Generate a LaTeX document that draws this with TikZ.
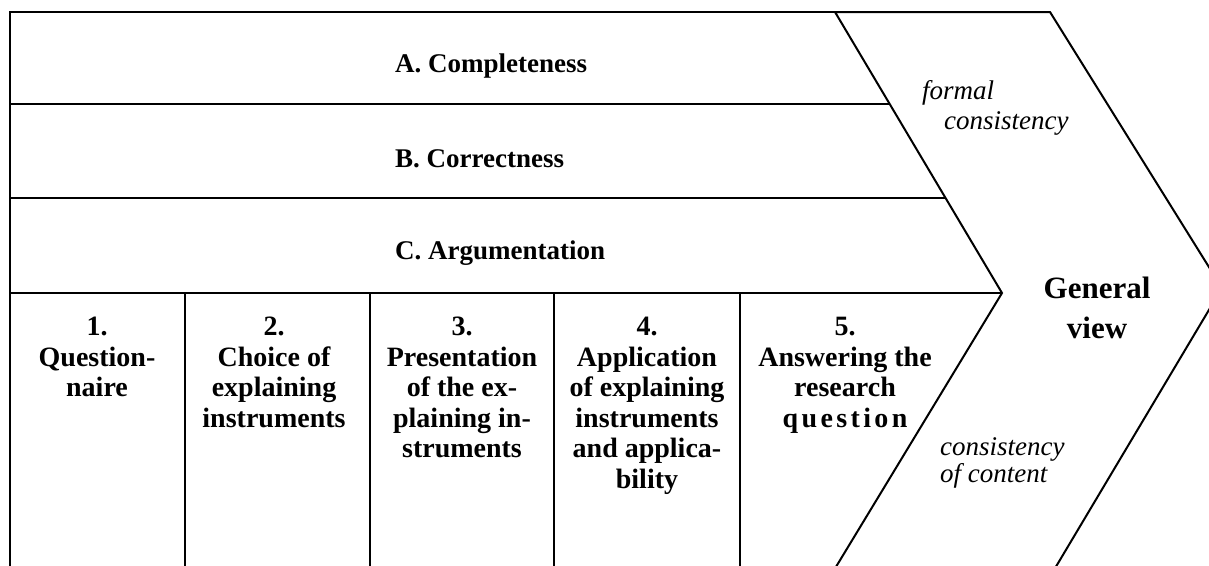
\documentclass[tikz,border=0pt]{standalone}
\usepackage{fontspec}
\setmainfont{Liberation Serif}
\usetikzlibrary{positioning}
\tikzset{
  gridline/.style={line width=1.3pt},
  chevronline/.style={line width=2pt, line join=miter},
  rowlabel/.style={anchor=base west, inner sep=0pt, font=\fontsize{27}{31}\selectfont\bfseries},
  steplabel/.style={anchor=north, inner sep=0pt, align=center, font=\fontsize{28}{30.5}\selectfont\bfseries},
  sidelabel/.style={anchor=north west, inner sep=0pt, align=left, font=\fontsize{27}{30}\selectfont\itshape}
}
\begin{document}
\begin{tikzpicture}[x=1pt, y=-1pt]
        \useasboundingbox (0,0) rectangle (1209,565);
        \clip (0,0) rectangle (1209,565);
        % Chevron
        \draw[chevronline] (835,12) -- (1050,12) -- (1222,288) -- (1048,580)
                -- (828,580) -- (1002,293) -- cycle;
        
        % Table frame and rows
        \draw[gridline] (10,580) -- (10,12) -- (835,12);
        \draw[gridline] (10,104) -- (890,104);
        \draw[gridline] (10,198) -- (946,198);
        \draw[gridline] (10,293) -- (1002,293);
        
        % Columns
        \foreach \x in {185, 370, 554, 740}
          \draw[gridline] (\x,293) -- (\x,580);
        
        % Criteria
        \node[rowlabel] (complete) at (395,72) {A. Completeness};
        \node[rowlabel] (correct) at (395,167) {B. Correctness};
        \node[rowlabel] (argue) at (395,259) {C. Argumentation};
        
        % Steps
        \node[steplabel] (step1) at (97,317) {1.\\Question-\\naire};
        \node[steplabel] (step2) at (274,317) {2.\\Choice of\\explaining\\instruments};
        \node[steplabel] (step3) at (462,317) {3.\\Presentation\\of the ex-\\plaining in-\\struments};
        \node[steplabel] (step4) at (647,317) {4.\\Application\\of explaining\\instruments\\and applica-\\bility};
        \node[steplabel] (step5) at (845,317) {5.\\Answering the\\research\\{\addfontfeature{LetterSpace=12}question}};
        
        % Consistency
        \node[sidelabel] (formal) at (922,80) {formal\\\hspace*{22pt}consistency};
        \node[sidelabel, font=\fontsize{27}{27}\selectfont\itshape] (content) at (940,437) {consistency\\of content};
        \node[anchor=north, inner sep=0pt, align=center, font=\fontsize{31}{40}\selectfont\bfseries] (general) at (1097,277) {General\\view};
\end{tikzpicture}
\end{document}
